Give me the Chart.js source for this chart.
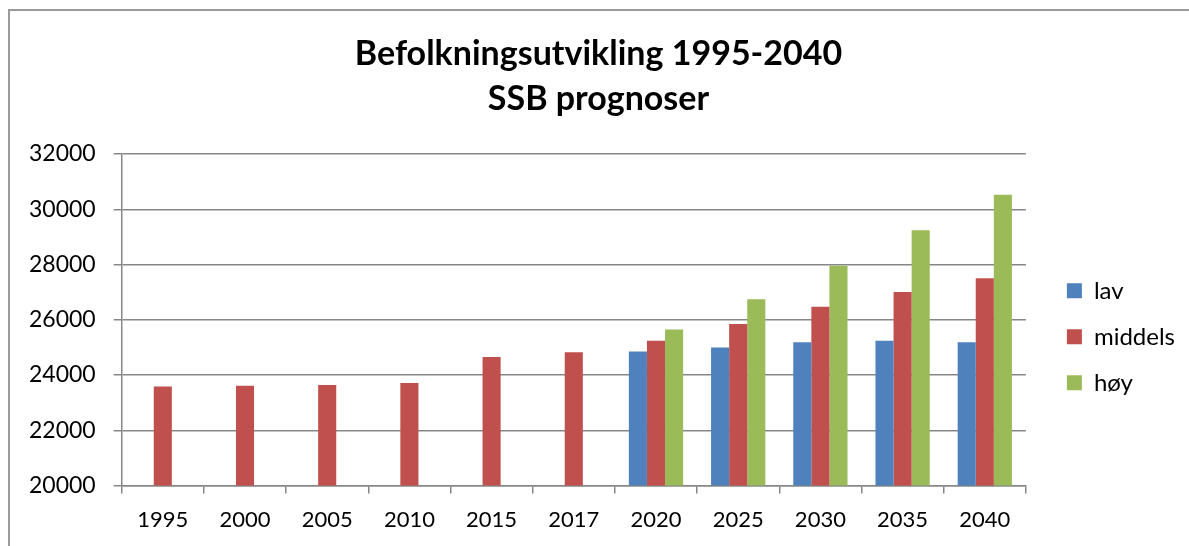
<!DOCTYPE html>
<html lang="no">
<head>
    <meta charset="UTF-8">
    <title>Befolkningsutvikling 1995-2040</title>
    <script src="https://cdn.jsdelivr.net/npm/chart.js"></script>
    <style>
        body {
            margin: 0;
            padding: 0;
            background-color: #fff;
            overflow: hidden;
        }

        #frame {
            position: absolute;
            left: 8px;
            top: 9px;
            width: 1300px;
            height: 700px;
            border-left: 2px solid #9a9a9a;
            border-top: 2px solid #9a9a9a;
        }

        #chart-container {
            position: absolute;
            left: 0;
            top: 0;
            width: 1189px;
            height: 546px;
        }
    </style>
</head>
<body>
    <div id="frame"></div>
    <div id="chart-container">
        <canvas id="popChart"></canvas>
    </div>
    <script>
        // Data lest av figuren
        const years = ['1995', '2000', '2005', '2010', '2015', '2017', '2020', '2025', '2030', '2035', '2040'];
        const lav = [null, null, null, null, null, null, 24850, 25000, 25190, 25240, 25190];
        const middels = [23590, 23610, 23640, 23710, 24650, 24830, 25240, 25850, 26470, 27010, 27500];
        const hoy = [null, null, null, null, null, null, 25650, 26740, 27960, 29240, 30530];
        const yTicks = [20000, 22000, 24000, 26000, 28000, 30000, 32000];

        const gridColor = '#878787';
        const fontFamily = 'Lato, "Open Sans", sans-serif';

        // flytter legenden ut fra plottet og ned, og tittelen litt mot høyre, som i Excel
        const layoutShift = {
            id: 'layoutShift',
            afterLayout(chart) {
                const lg = chart.legend;
                lg.left += 19;
                lg.right += 19;
                lg.top += 17;
                lg.bottom += 17;
                const t = chart.titleBlock;
                t.left += 10;
                t.right += 10;
            }
        };

        const ctx = document.getElementById('popChart').getContext('2d');

        new Chart(ctx, {
            type: 'bar',
            data: {
                labels: years,
                datasets: [
                    { label: 'lav', data: lav, backgroundColor: '#4F81BD' },
                    { label: 'middels', data: middels, backgroundColor: '#C0504D' },
                    { label: 'høy', data: hoy, backgroundColor: '#9BBB59' }
                ]
            },
            options: {
                responsive: true,
                maintainAspectRatio: false,
                animation: false,
                layout: {
                    padding: { left: 11, right: 23, top: 0, bottom: 0 }
                },
                datasets: {
                    bar: {
                        categoryPercentage: 0.66,
                        barPercentage: 1.0
                    }
                },
                plugins: {
                    title: {
                        display: true,
                        text: ['Befolkningsutvikling 1995-2040', 'SSB prognoser'],
                        color: '#000',
                        font: { family: fontFamily, size: 34, weight: 'bold', lineHeight: 1.324 },
                        padding: { top: 32, bottom: 32 }
                    },
                    legend: {
                        position: 'right',
                        fullSize: false,
                        labels: {
                            color: '#000',
                            boxWidth: 15,
                            boxHeight: 15,
                            padding: 22,
                            font: { family: fontFamily, size: 24 }
                        }
                    },
                    tooltip: { enabled: false }
                },
                scales: {
                    x: {
                        grid: {
                            offset: true,
                            drawOnChartArea: false,
                            drawTicks: true,
                            tickLength: 8,
                            color: gridColor,
                            lineWidth: 1.5
                        },
                        border: { color: gridColor, width: 1.5 },
                        ticks: {
                            color: '#000',
                            padding: 13,
                            maxRotation: 0,
                            font: { family: fontFamily, size: 22 }
                        }
                    },
                    y: {
                        min: 20000,
                        max: 32000,
                        afterBuildTicks: axis => {
                            axis.ticks = yTicks.map(v => ({ value: v }));
                        },
                        grid: {
                            color: gridColor,
                            lineWidth: 1.5,
                            drawTicks: true,
                            tickLength: 8
                        },
                        border: { color: gridColor, width: 1.5 },
                        ticks: {
                            color: '#000',
                            padding: 18,
                            font: { family: fontFamily, size: 23 },
                            callback: value => String(value)
                        }
                    }
                }
            },
            plugins: [layoutShift]
        });
    </script>
</body>
</html>
